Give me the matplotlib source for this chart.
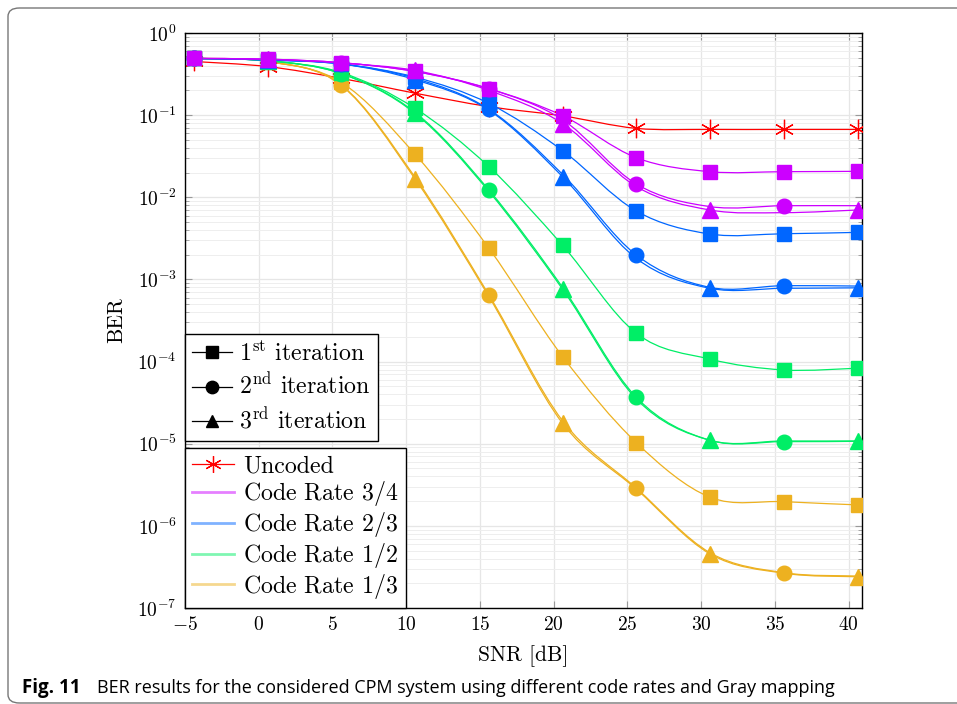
import numpy as np
import matplotlib
matplotlib.use('Agg')
import matplotlib.pyplot as plt
from matplotlib.path import Path
from matplotlib.patches import PathPatch, FancyBboxPatch
from matplotlib.lines import Line2D

plt.rcParams['font.family'] = 'cmr10'
plt.rcParams['mathtext.fontset'] = 'cm'
plt.rcParams['axes.formatter.use_mathtext'] = True

# data
snr = [-4.4, 0.6, 5.6, 10.6, 15.6, 20.6, 25.6, 30.6, 35.6, 40.6]

uncoded = [0.45, 0.39, 0.28, 0.185, 0.127, 0.098, 0.069, 0.067, 0.067, 0.067]

r34_it1 = [0.49, 0.48, 0.435, 0.34, 0.21, 0.0985, 0.0303, 0.0205, 0.0205, 0.0207]
r34_it2 = [0.49, 0.48, 0.435, 0.34, 0.21, 0.088, 0.0145, 0.0077, 0.0079, 0.0079]
r34_it3 = [0.49, 0.48, 0.43, 0.35, 0.20, 0.079, 0.0135, 0.0070, 0.0065, 0.0070]

r23_it1 = [0.49, 0.47, 0.42, 0.29, 0.139, 0.037, 0.0068, 0.00357, 0.0036, 0.00374]
r23_it2 = [0.49, 0.47, 0.42, 0.28, 0.118, 0.019, 0.00198, 0.0008, 0.00084, 0.00083]
r23_it3 = [0.49, 0.47, 0.42, 0.27, 0.115, 0.0178, 0.0018, 0.00078, 0.00078, 0.00079]

r12_it1 = [0.49, 0.46, 0.33, 0.121, 0.0236, 0.0026, 0.000221, 0.000107, 0.000079, 0.000083]
r12_it2 = [0.49, 0.46, 0.32, 0.108, 0.0123, 0.0008, 3.67e-5, 1.1e-5, 1.06e-5, 1.07e-5]
r12_it3 = [0.49, 0.46, 0.32, 0.105, 0.0118, 0.00076, 3.5e-5, 1.1e-5, 1.08e-5, 1.08e-5]

r13_it1 = [0.49, 0.45, 0.25, 0.0334, 0.0024, 0.000115, 1.03e-5, 2.23e-6, 1.97e-6, 1.8e-6]
r13_it2 = [0.49, 0.45, 0.233, 0.0175, 0.00065, 1.9e-5, 2.88e-6, 4.7e-7, 2.69e-7, 2.45e-7]
r13_it3 = [0.49, 0.45, 0.23, 0.0167, 0.00062, 1.77e-5, 2.8e-6, 4.55e-7, 2.65e-7, 2.4e-7]

rate_labels = ['Code Rate $3/4$', 'Code Rate $2/3$', 'Code Rate $1/2$', 'Code Rate $1/3$']
rate_colors = ['#cc00ff', '#0066ff', '#00ee66', '#edb120']
rate_data = [(r34_it1, r34_it2, r34_it3), (r23_it1, r23_it2, r23_it3),
             (r12_it1, r12_it2, r12_it3), (r13_it1, r13_it2, r13_it3)]
iter_labels = ['1$^{\\rm st}$ iteration', '2$^{\\rm nd}$ iteration', '3$^{\\rm rd}$ iteration']
iter_markers = ['s', 'o', '^']
iter_sizes = [9.5, 10.5, 11]
iter_every = [1, (0, 2), (1, 2)]


def smooth_path(x, y):
    # bezier through the points, worked out in (x, log y) space
    px = np.asarray(x, float)
    py = np.log10(np.asarray(y, float))
    n = len(px)
    verts = [(px[0], py[0])]
    codes = [Path.MOVETO]
    for i in range(n - 1):
        a = max(i - 1, 0)
        b = min(i + 2, n - 1)
        c1 = (px[i] + (px[i + 1] - px[a]) / 6, py[i] + (py[i + 1] - py[a]) / 6)
        c2 = (px[i + 1] - (px[b] - px[i]) / 6, py[i + 1] - (py[b] - py[i]) / 6)
        verts += [c1, c2, (px[i + 1], py[i + 1])]
        codes += [Path.CURVE4] * 3
    verts = [(u, 10 ** v) for u, v in verts]
    return Path(verts, codes)


fig = plt.figure(figsize=(9.57, 7.04), dpi=100)
ax = fig.add_axes([185 / 957, 1 - 608 / 704, 677 / 957, 575 / 704])
ax.set_yscale('log')
ax.set_xlim(-5, 40.9)
ax.set_ylim(1e-7, 1)

# uncoded
ax.add_patch(PathPatch(smooth_path(snr, uncoded), fc='none', ec='#ff0000', lw=0.9, zorder=3))
ax.plot(snr, uncoded, ls='none', marker=(6, 2, 0), ms=14, mew=0.9, color='#ff0000', zorder=4)

for (its, col) in reversed(list(zip(rate_data, rate_colors))):
    for k, vals in enumerate(its):
        ax.add_patch(PathPatch(smooth_path(snr, vals), fc='none', ec=col, lw=0.9, zorder=3))
        ax.plot(snr, vals, ls='none', marker=iter_markers[k], ms=iter_sizes[k],
                markevery=iter_every[k], color=col, mec=col, zorder=4)

ax.set_xticks([-5, 0, 5, 10, 15, 20, 25, 30, 35, 40])
ax.grid(True, which='major', color='#e6e6e6', lw=0.9)
ax.grid(True, which='minor', axis='y', color='#eeeeee', lw=0.7)
ax.set_axisbelow(True)
ax.tick_params(which='both', direction='in', top=True, right=True, labelsize=14, pad=6)
ax.tick_params(which='major', length=5, color='#999999')
ax.tick_params(which='minor', length=3, color='#999999')
for s in ax.spines.values():
    s.set_linewidth(1.0)
ax.set_xlabel('SNR [dB]', fontsize=15.5, labelpad=8)
ax.set_ylabel('BER', fontsize=15.5, labelpad=8)

h1 = [Line2D([], [], color='k', lw=0.9, marker=m, ms=sz * 0.85)
      for m, sz in zip(iter_markers, iter_sizes)]
leg1 = ax.legend(h1, iter_labels, loc='upper left', bbox_to_anchor=(0, 0.476),
                 borderaxespad=0, fontsize=17.2, fancybox=False, edgecolor='k',
                 framealpha=1, handlelength=1.67, handletextpad=0.3,
                 labelspacing=0.33, borderpad=0.3)
leg1.get_frame().set_linewidth(1.0)
ax.add_artist(leg1)

h2 = [Line2D([], [], color='#ff0000', lw=0.9, marker=(6, 2, 0), ms=12, mew=0.9)]
h2 += [Line2D([], [], color=c, lw=2.0, alpha=0.5) for c in rate_colors]
leg2 = ax.legend(h2, ['Uncoded'] + rate_labels, loc='lower left', bbox_to_anchor=(0, 0),
                 borderaxespad=0, fontsize=17.2, fancybox=False, edgecolor='k',
                 framealpha=1, handlelength=1.76, handletextpad=0.38,
                 labelspacing=0.08, borderpad=0.3)
leg2.get_frame().set_linewidth(1.0)

# frame around figure + caption
fig.patches.append(FancyBboxPatch((8 / 957, 1 / 704), 1.2, 695 / 704,
                                  boxstyle='round,pad=0,rounding_size=0.012',
                                  transform=fig.transFigure, fc='none',
                                  ec='#777777', lw=1.0, figure=fig))
cap_font = ['Open Sans', 'DejaVu Sans']
fig.text(22 / 957, 1 - 688 / 704, 'Fig. 11', fontsize=13.5, fontweight='bold',
         family=cap_font, va='center', ha='left')
fig.text(97 / 957, 1 - 688 / 704,
         'BER results for the considered CPM system using different code rates and Gray mapping',
         fontsize=13, family=cap_font, va='center', ha='left')

fig.savefig('out.png', dpi=100)
